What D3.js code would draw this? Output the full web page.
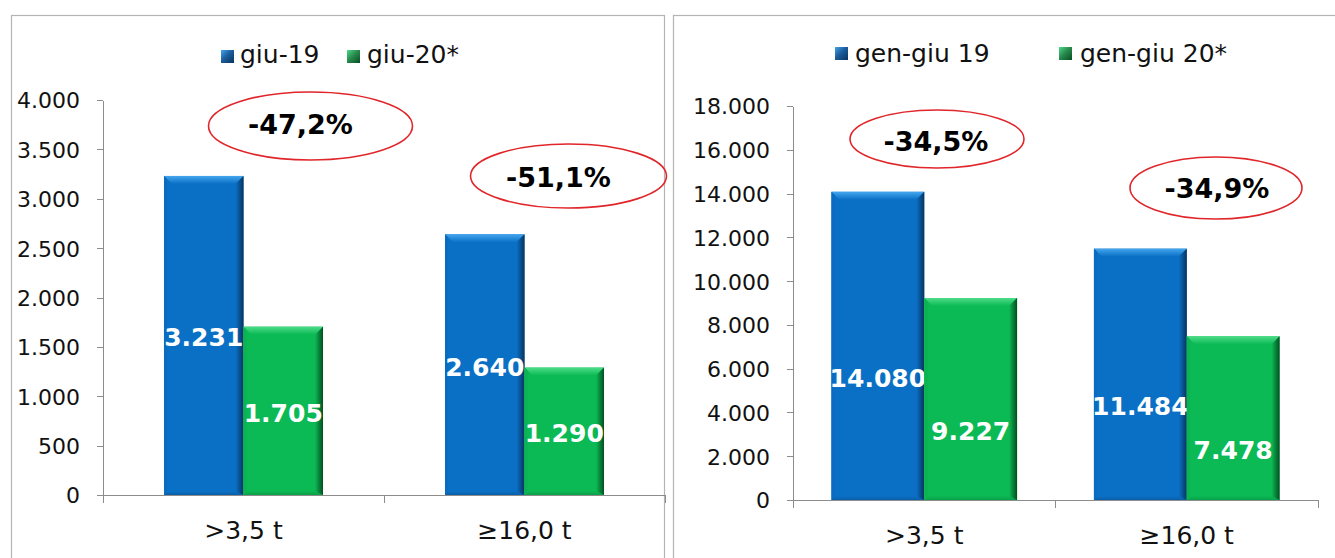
<!DOCTYPE html>
<html lang="it">
<head>
<meta charset="UTF-8">
<title>Immatricolazioni veicoli industriali</title>
<script src="https://d3js.org/d3.v7.min.js"></script>
<style>
  body { margin: 0; background: #ffffff; font-family: "DejaVu Sans", Verdana, sans-serif; }
  svg { display: block; }
  .axis path, .axis line { stroke: #8c8c8c; stroke-width: 1px; shape-rendering: crispEdges; }
  .axis text { fill: #111; font-family: "DejaVu Sans", Verdana, sans-serif; }
</style>
</head>
<body>
<svg id="chart" width="1335" height="558"></svg>
<script>
// categories shared by both panels
const categories = [">3,5 t", "≥16,0 t"];

// left panel: month of June
const monthSeries = ["giu-19", "giu-20*"];
const monthValues19 = [3231, 2640];
const monthValues20 = [1705, 1290];
const monthChange = ["-47,2%", "-51,1%"];
const monthTicks = [0, 500, 1000, 1500, 2000, 2500, 3000, 3500, 4000];

// right panel: January-June
const ytdSeries = ["gen-giu 19", "gen-giu 20*"];
const ytdValues19 = [14080, 11484];
const ytdValues20 = [9227, 7478];
const ytdChange = ["-34,5%", "-34,9%"];
const ytdTicks = [0, 2000, 4000, 6000, 8000, 10000, 12000, 14000, 16000, 18000];

const itFormat = d3.formatLocale({ decimal: ",", thousands: ".", grouping: [3], currency: ["", " €"] }).format(",d");

const palette = [
  { main: "#0a70c6", top: "#45a6ee", left: "#0b6cbf", right: "#08345f", bottom: "#0a5ea8", key: "#1c5d9c" },
  { main: "#0bba54", top: "#4ddc88", left: "#0ab551", right: "#044f22", bottom: "#09a049", key: "#2a8c4f" }
];

const svg = d3.select("#chart");
const defs = svg.append("defs");

// gradient helpers for the bevel faces
palette.forEach((p, i) => {
  const gt = defs.append("linearGradient").attr("id", "top" + i).attr("x1", 0).attr("y1", 0).attr("x2", 0).attr("y2", 1);
  gt.append("stop").attr("offset", "0%").attr("stop-color", p.top);
  gt.append("stop").attr("offset", "100%").attr("stop-color", p.main);
  const gr = defs.append("linearGradient").attr("id", "right" + i).attr("x1", 0).attr("y1", 0).attr("x2", 1).attr("y2", 0);
  gr.append("stop").attr("offset", "0%").attr("stop-color", p.main);
  gr.append("stop").attr("offset", "100%").attr("stop-color", p.right);
  const gb = defs.append("linearGradient").attr("id", "bottom" + i).attr("x1", 0).attr("y1", 0).attr("x2", 0).attr("y2", 1);
  gb.append("stop").attr("offset", "0%").attr("stop-color", p.main);
  gb.append("stop").attr("offset", "100%").attr("stop-color", p.bottom);
  const gk = defs.append("linearGradient").attr("id", "key" + i).attr("x1", 0).attr("y1", 0).attr("x2", 1).attr("y2", 1);
  gk.append("stop").attr("offset", "0%").attr("stop-color", p.top);
  gk.append("stop").attr("offset", "45%").attr("stop-color", p.key);
  gk.append("stop").attr("offset", "100%").attr("stop-color", p.right);
});

const panels = [
  {
    frame: { x: 11.5, y: 15.5, w: 653, h: 600 },
    series: monthSeries, values: [monthValues19, monthValues20], change: monthChange,
    ticks: monthTicks, xRange: [103, 665], yRange: [495, 100], padOuter: 0.767, labelShift: 2,
    legend: [{ sx: 221, tx: 240 }, { sx: 347, tx: 367 }], legendTop: 50, legendBase: 63,
    ellipses: [
      { cx: 310.5, cy: 126, rx: 102, ry: 34, dx: -10, dy: -2 },
      { cx: 568.5, cy: 176, rx: 98, ry: 32, dx: -10, dy: 1 }
    ]
  },
  {
    frame: { x: 673.5, y: 15.5, w: 700, h: 600 },
    series: ytdSeries, values: [ytdValues19, ytdValues20], change: ytdChange,
    ticks: ytdTicks, xRange: [793, 1318], yRange: [500, 106], padOuter: 0.414, labelShift: 32,
    legend: [{ sx: 835, tx: 855 }, { sx: 1059, tx: 1080 }], legendTop: 47, legendBase: 62,
    ellipses: [
      { cx: 937, cy: 139, rx: 87, ry: 29, dx: -1, dy: 2 },
      { cx: 1216, cy: 188, rx: 86, ry: 31, dx: 1, dy: 0 }
    ]
  }
];

function bevelBar(g, x, y, w, h, i) {
  const p = palette[i];
  const b = Math.min(8, h / 2);
  const bb = Math.min(4, h / 4);
  g.append("rect").attr("x", x).attr("y", y).attr("width", w).attr("height", h).attr("fill", p.main);
  g.append("polygon").attr("fill", `url(#top${i})`)
    .attr("points", [[x, y], [x + w, y], [x + w - b, y + b], [x + b, y + b]].join(" "));
  g.append("polygon").attr("fill", p.left)
    .attr("points", [[x, y], [x + 3, y + 3], [x + 3, y + h - bb], [x, y + h]].join(" "));
  g.append("polygon").attr("fill", `url(#bottom${i})`)
    .attr("points", [[x, y + h], [x + bb, y + h - bb], [x + w - bb, y + h - bb], [x + w, y + h]].join(" "));
  g.append("polygon").attr("fill", `url(#right${i})`)
    .attr("points", [[x + w, y], [x + w, y + h], [x + w - b, y + h - bb], [x + w - b, y + b]].join(" "));
}

panels.forEach(P => {
  const g = svg.append("g");

  g.append("rect")
    .attr("x", P.frame.x).attr("y", P.frame.y)
    .attr("width", P.frame.w).attr("height", P.frame.h)
    .attr("fill", "none").attr("stroke", "#b4b4b4").attr("stroke-width", 1.2);

  const x0 = d3.scaleBand().domain(categories).range(P.xRange).padding(0);
  const x1 = d3.scaleBand().domain(P.series).range([0, x0.bandwidth()])
    .paddingInner(0).paddingOuter(P.padOuter);
  const y = d3.scaleLinear().domain([0, d3.max(P.ticks)]).range(P.yRange);

  // y axis
  g.append("g").attr("class", "axis")
    .attr("transform", `translate(${P.xRange[0]},0)`)
    .call(d3.axisLeft(y).tickValues(P.ticks).tickFormat(itFormat).tickSize(6).tickSizeOuter(0).tickPadding(17))
    .call(a => a.selectAll("text").attr("font-size", 22).attr("dy", "0.36em"));

  // x axis: baseline, boundary ticks, centred labels
  const xa = g.append("g").attr("class", "axis")
    .attr("transform", `translate(0,${P.yRange[0]})`)
    .call(d3.axisBottom(x0).tickSize(0).tickSizeOuter(0).tickPadding(26))
    .call(a => a.selectAll("text").attr("font-size", 25));
  const bounds = categories.map(c => x0(c)).concat([x0.range()[1]]);
  xa.selectAll(".bound").data(bounds).enter().append("line")
    .attr("class", "bound")
    .attr("x1", d => d).attr("x2", d => d).attr("y1", 0).attr("y2", 8);

  // bars
  const bars = g.append("g");
  categories.forEach((c, ci) => {
    P.series.forEach((s, si) => {
      const v = P.values[si][ci];
      const bx = x0(c) + x1(s);
      const by = y(v);
      bevelBar(bars, bx, by, x1.bandwidth(), y(0) - by, si);
      bars.append("text")
        .attr("x", bx + x1.bandwidth() / 2)
        .attr("y", (by + y(0)) / 2 + P.labelShift)
        .attr("dy", "0.36em")
        .attr("text-anchor", "middle")
        .attr("font-size", 25).attr("font-weight", "bold")
        .attr("fill", "#ffffff")
        .text(itFormat(v));
    });
  });

  // legend
  P.series.forEach((s, si) => {
    const L = P.legend[si];
    g.append("rect").attr("x", L.sx).attr("y", P.legendTop).attr("width", 13).attr("height", 13)
      .attr("fill", `url(#key${si})`);
    g.append("text").attr("x", L.tx).attr("y", P.legendBase)
      .attr("font-size", 25).attr("fill", "#111").text(s);
  });

  // change annotations
  P.ellipses.forEach((e, i) => {
    g.append("ellipse").attr("cx", e.cx).attr("cy", e.cy).attr("rx", e.rx).attr("ry", e.ry)
      .attr("fill", "none").attr("stroke", "#e0262a").attr("stroke-width", 1.6);
    g.append("text").attr("x", e.cx + e.dx).attr("y", e.cy + e.dy).attr("dy", "0.36em")
      .attr("text-anchor", "middle").attr("font-size", 27).attr("font-weight", "bold")
      .attr("fill", "#000").text(P.change[i]);
  });
});
</script>
</body>
</html>
